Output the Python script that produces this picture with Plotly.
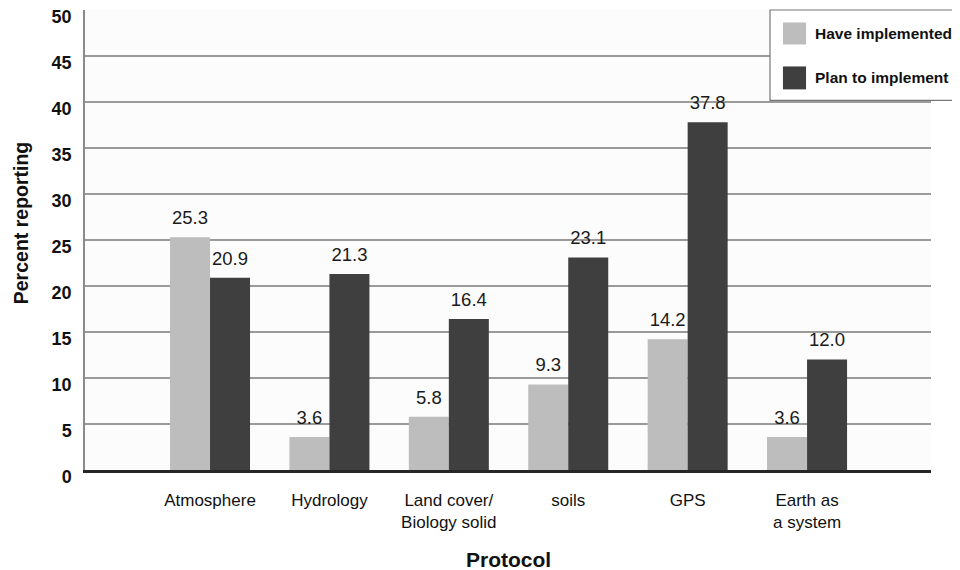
import plotly.graph_objects as go

categories = ["Atmosphere", "Hydrology", "Land cover/<br>Biology solid", "soils", "GPS", "Earth as<br>a system"]
series_names = ["Have implemented", "Plan to implement"]
have_implemented = [25.3, 3.6, 5.8, 9.3, 14.2, 3.6]
plan_to_implement = [20.9, 21.3, 16.4, 23.1, 37.8, 12.0]
y_ticks = [0, 5, 10, 15, 20, 25, 30, 35, 40, 45, 50]

colors = ["#bdbdbd", "#3f3f3f"]
FONT = "Liberation Sans, Arial, sans-serif"

fig = go.Figure()
for i, (name, vals, col) in enumerate(zip(series_names, [have_implemented, plan_to_implement], colors)):
    fig.add_trace(go.Bar(
        x=categories, y=vals, name=name, offsetgroup=str(i),
        marker=dict(color=col, line=dict(width=0)),
        showlegend=False, hoverinfo="skip",
    ))
# value labels, placed in the same groups as the bars
for i, (name, vals) in enumerate(zip(series_names, [have_implemented, plan_to_implement])):
    fig.add_trace(go.Scatter(
        x=categories, y=vals, name=name, offsetgroup=str(i), mode="markers+text",
        marker=dict(size=12, opacity=0), text=[f"{v:.1f}" for v in vals],
        textposition="top center", textfont=dict(family=FONT, size=18.5, color="#1a1a1a"),
        cliponaxis=False, showlegend=False,
    ))

# legend drawn as box, swatches and labels (paper coordinates)
shapes = [dict(type="rect", xref="paper", yref="paper", x0=0.8097, x1=1.05, y0=0.8035, y1=1.0,
               line=dict(color="#777", width=1.2), fillcolor="white", layer="above")]
annotations = []
sw = [(0.9729, 0.9251), (0.8773, 0.8274)]
for (y1, y0), col, name in zip(sw, colors, series_names):
    shapes.append(dict(type="rect", xref="paper", yref="paper", x0=0.825, x1=0.8523, y0=y0, y1=y1,
                       line=dict(width=0), fillcolor=col, layer="above"))
    annotations.append(dict(xref="paper", yref="paper", x=0.8605, y=(y0 + y1) / 2, text=name,
                            showarrow=False, xanchor="left", yanchor="middle",
                            font=dict(family=FONT, size=15.5, color="#111", weight="bold")))

annotations.append(dict(xref="paper", yref="paper", x=-0.0757, y=0.5385, text="Percent reporting",
                        textangle=-90, showarrow=False, xanchor="center", yanchor="middle",
                        font=dict(family=FONT, size=19.5, color="#111", weight="bold")))
annotations.append(dict(xref="paper", yref="paper", x=0.5, y=-0.1954, text="Protocol",
                        showarrow=False, xanchor="center", yanchor="middle",
                        font=dict(family=FONT, size=21, color="#111", weight="bold")))

fig.update_layout(
    width=952, height=562,
    margin=dict(l=77, r=29, t=1.5, b=100),
    paper_bgcolor="white", plot_bgcolor="#fcfcfc",
    barmode="group", bargap=0.33, bargroupgap=0,
    scattermode="group", scattergap=0.33,
    font=dict(family=FONT, color="#111"),
    shapes=shapes, annotations=annotations,
    xaxis=dict(type="category", range=[-1.047, 6.038], showgrid=False, ticks="", automargin=False,
               showline=True, linecolor="#262626", linewidth=2.5,
               tickfont=dict(family=FONT, size=17, color="#111"), ticklabelstandoff=13),
    yaxis=dict(range=[0, 50], tickvals=y_ticks, showgrid=True, gridcolor="#9a9a9a", gridwidth=1.5,
               automargin=False, ticklabeloverflow="allow", ticklabelshift=7,
               zeroline=False, showline=True, linecolor="#8a8a8a", linewidth=1.5, ticks="",
               tickfont=dict(family=FONT, size=18, color="#111", weight="bold"), ticklabelstandoff=8),
)

fig.write_html("out.html")
